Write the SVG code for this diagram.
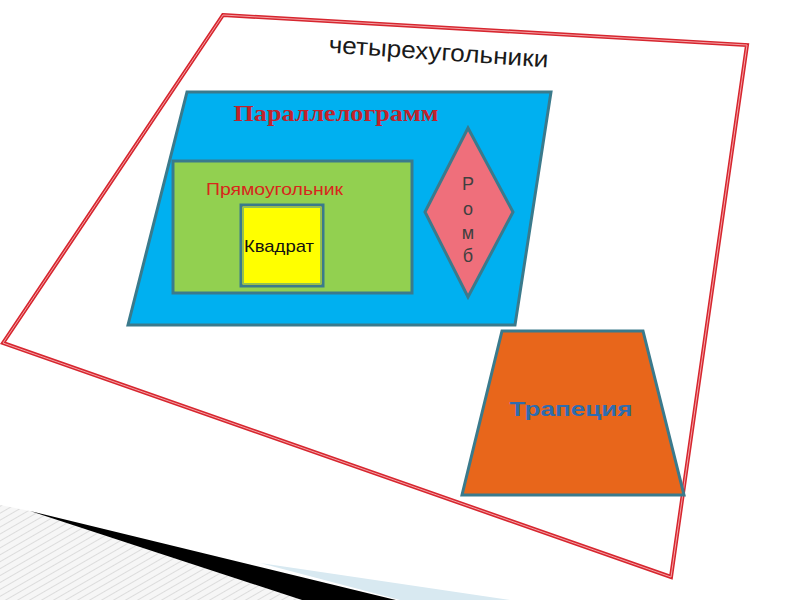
<svg xmlns="http://www.w3.org/2000/svg" width="800" height="600" viewBox="0 0 800 600">
<defs>
<pattern id="hatch" width="6" height="6" patternUnits="userSpaceOnUse" patternTransform="rotate(60)">
<rect width="6" height="6" fill="#f6f6f6"/>
<line x1="0" y1="0" x2="0" y2="6" stroke="#dcdcdc" stroke-width="2"/>
</pattern>
</defs>
<style>
.edge{stroke:#3a7a8c;stroke-width:3;stroke-linejoin:miter}
.sans{font-family:"Liberation Sans",Arial,sans-serif}
</style>
<rect width="800" height="600" fill="#ffffff"/>
<g id="decor">
<polygon points="0,505 30,511 302,600 0,600" fill="url(#hatch)"/>
<polygon points="260,563 510,600 400,600" fill="#d8e9f1"/>
<polygon points="30,511 400,601 302,600" fill="#000000"/>
</g>
<g id="quadrilaterals">
<polygon points="223,15 747,45 671,577 3,343" fill="none" stroke="#d7262f" stroke-width="4" stroke-linejoin="miter"/>
<polygon points="223,15 747,45 671,577 3,343" fill="none" stroke="#f3a3a6" stroke-width="1"/>
<text class="sans" x="438" y="60" font-size="24" fill="#1a1a1a" text-anchor="middle" textLength="220" lengthAdjust="spacingAndGlyphs" transform="rotate(3.9 438 60)">четырехугольники</text>
</g>
<g id="parallelogram">
<polygon class="edge" points="187,92 551,92 515,325 128,325" fill="#00b0f0"/>
<text x="336" y="121" font-family="'Liberation Serif','Times New Roman',serif" font-weight="bold" font-size="23" fill="#c0232b" text-anchor="middle" textLength="205" lengthAdjust="spacingAndGlyphs">Параллелограмм</text>
</g>
<g id="rectangle">
<rect class="edge" x="173" y="161" width="239" height="132" fill="#92d050"/>
<text class="sans" x="206" y="195" font-size="16" fill="#d8261c" textLength="137" lengthAdjust="spacingAndGlyphs">Прямоугольник</text>
</g>
<g id="square">
<rect class="edge" x="241" y="205" width="82" height="81" fill="#ffff00"/>
<rect x="243.5" y="207.5" width="77" height="76" fill="none" stroke="#8fc25a" stroke-width="1"/>
<text class="sans" x="279" y="252" font-size="17" fill="#111111" text-anchor="middle" textLength="70" lengthAdjust="spacingAndGlyphs">Квадрат</text>
</g>
<g id="rhombus">
<polygon class="edge" points="468,128 513,212 468,297 425,212" fill="#ef6f7b"/>
<g class="sans" font-size="18" fill="#404040" text-anchor="middle">
<text x="468" y="190">Р</text>
<text x="468" y="215">о</text>
<text x="468" y="239">м</text>
<text x="468" y="262">б</text>
</g>
</g>
<g id="trapezoid">
<polygon class="edge" points="502,331 643,331 684,495 462,495" fill="#e8661b"/>
<text class="sans" x="571" y="416" font-size="21" font-weight="bold" fill="#2e6cae" text-anchor="middle" textLength="123" lengthAdjust="spacingAndGlyphs">Трапеция</text>
</g>
<g id="connectors"></g>
</svg>
